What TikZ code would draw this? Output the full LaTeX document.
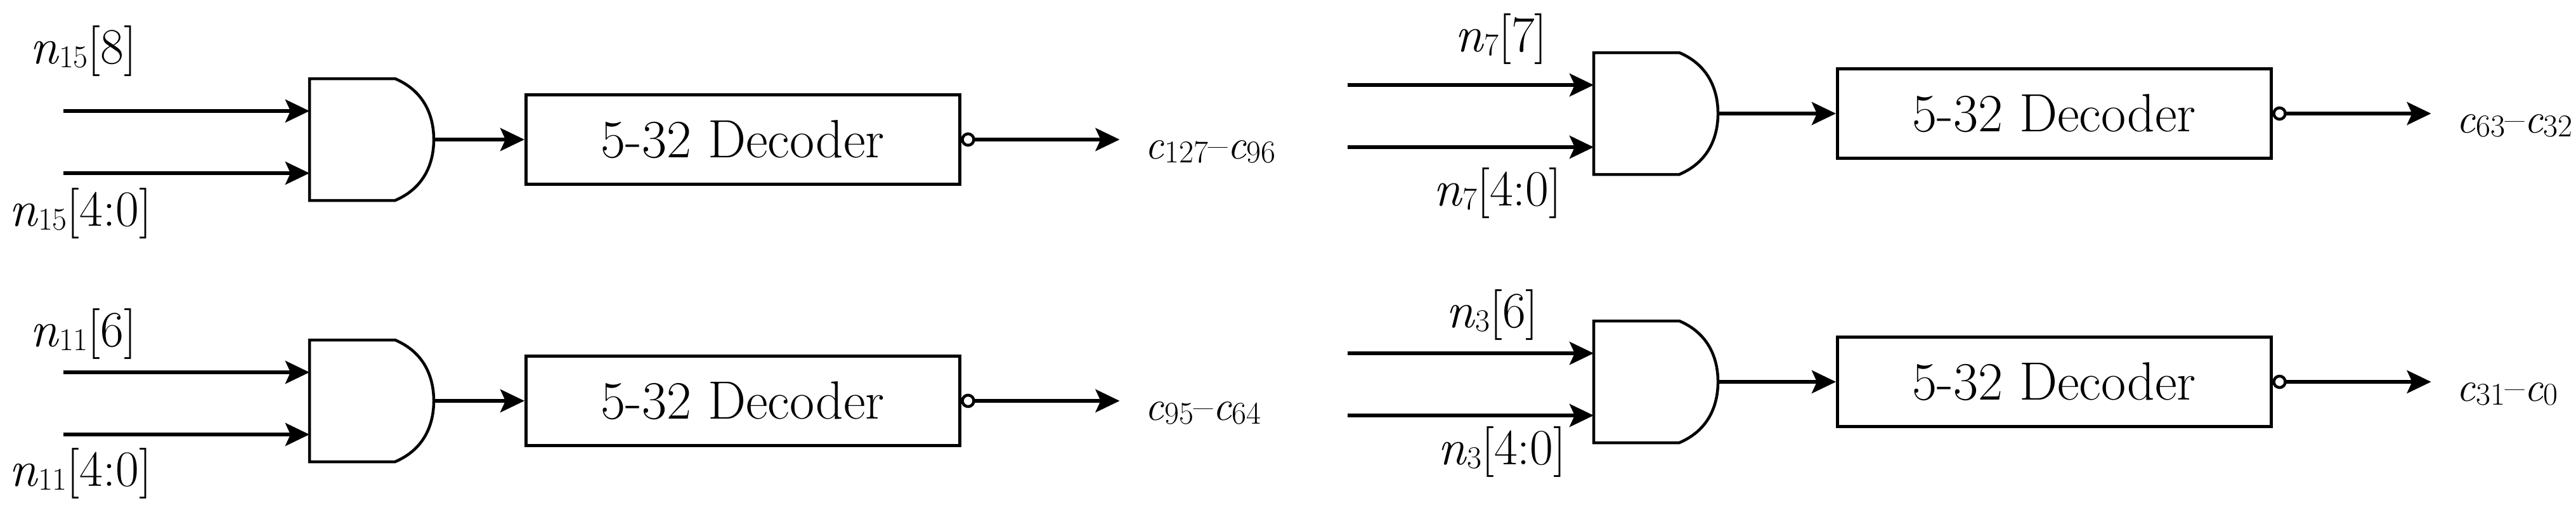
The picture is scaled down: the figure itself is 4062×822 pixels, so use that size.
\documentclass[tikz,border=0pt]{standalone}
\usetikzlibrary{arrows.meta}
\newcommand\sbs[1]{{\fontsize{50}{60}\selectfont\raisebox{-0.12em}{#1}}}
\newcommand\vn[1]{\textit{n}\sbs{#1}}
\newcommand\vc[1]{\textit{c}\sbs{#1}}
\tikzset{
  wire/.style={line width=6pt,-{Stealth[length=38pt,width=36pt,inset=8pt]}},
  gate/.style={line width=4.5pt},
  decbox/.style={draw,line width=4.5pt,minimum width=684pt,minimum height=141pt,inner sep=0pt,font=\fontsize{85}{100}\selectfont},
  lab/.style={anchor=base west,inner sep=0pt,font=\fontsize{80}{96}\selectfont},
  olab/.style={anchor=base west,inner sep=0pt,font=\fontsize{66}{78}\selectfont},
}
% #1 name, #2 x, #3 y (gate top), #4 gap, #5 output label
\newcommand\myblock[5]{%
  \begin{scope}[shift={(#2,#3)}]
    \coordinate (#1i1) at (0,51);
    \coordinate (#1i2) at (0,149);
    \coordinate (#1g1) at (388,51);
    \coordinate (#1g2) at (388,149);
    \draw[gate] (388,0) -- (523,0) .. controls (570,20) and (584,60) .. (584,96)
      coordinate (#1go) .. controls (584,132) and (570,172) .. (523,192) -- (388,192) -- cycle;
    \node[decbox,anchor=west] (#1d) at (584+#4,96) {5-32 Decoder};
    \draw[line width=4.5pt] ([xshift=11pt]#1d.east) circle (9pt);
    \coordinate (#1b) at ([xshift=20pt]#1d.east);
    \coordinate (#1o) at ([xshift=250pt]#1d.east);
    \node[olab] (#1l) at ([xshift=40pt,yshift=-30pt]#1o) {#5};
  \end{scope}
  \draw[wire] (#1i1) -- (#1g1);
  \draw[wire] (#1i2) -- (#1g2);
  \draw[wire] (#1go) -- (#1d.west);
  \draw[wire] (#1b) -- (#1o);
}
\begin{document}
\begin{tikzpicture}[x=1pt,y=-1pt]
\useasboundingbox (0,0) rectangle (4062,822);
\myblock{a}{100}{124}{143}{\vc{127}–\vc{96}}
\myblock{b}{2125}{83}{186}{\vc{63}–\vc{32}}
\myblock{c}{100}{536}{143}{\vc{95}–\vc{64}}
\myblock{d}{2125}{506}{186}{\vc{31}–\vc{0}}
\node[lab] (la1) at (47,100) {\vn{15}[8]};
\node[lab] (la2) at (14,356) {\vn{15}[4:0]};
\node[lab] (lb1) at (2294,81) {\vn{7}[7]};
\node[lab] (lb2) at (2260,324) {\vn{7}[4:0]};
\node[lab] (lc1) at (47,546) {\vn{11}[6]};
\node[lab] (lc2) at (14,766) {\vn{11}[4:0]};
\node[lab] (ld1) at (2280,516) {\vn{3}[6]};
\node[lab] (ld2) at (2267,732) {\vn{3}[4:0]};
\end{tikzpicture}
\end{document}
